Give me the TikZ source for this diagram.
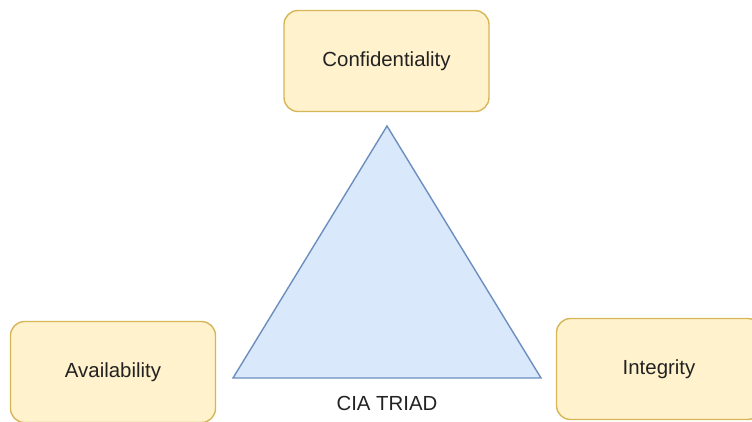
\documentclass[tikz,border=0pt]{standalone}
\usepackage{fontspec}
\setmainfont{Liberation Sans}
\definecolor{boxfill}{HTML}{FFF2CC}
\definecolor{boxline}{HTML}{D6B656}
\definecolor{trifill}{HTML}{DAE8FC}
\definecolor{triline}{HTML}{6C8EBF}
\definecolor{txt}{HTML}{222222}
\begin{document}
\begin{tikzpicture}[x=1pt,y=-1pt,
  pillar/.style={draw=boxline,fill=boxfill,line width=1.4pt,rounded corners=14pt,
    minimum width=205pt,minimum height=101pt,text=txt,font=\fontsize{20.4}{24}\selectfont},
  caption/.style={text=txt,font=\fontsize{20.4}{24}\selectfont}]
\useasboundingbox (0,0) rectangle (752,421);
\node[pillar] (conf) at (386.5,61) {Confidentiality};
\node[pillar] (avail) at (113,372) {Availability};
\node[pillar] (integ) at (659,369) {Integrity};
\coordinate (top) at (387,126);
\coordinate (left) at (233,378);
\coordinate (right) at (541,378);
\draw[draw=triline,fill=trifill,line width=1.4pt,line join=miter] (top)--(right)--(left)--cycle;
\node[caption] (triad) at (387,403) {CIA TRIAD};
\end{tikzpicture}
\end{document}
